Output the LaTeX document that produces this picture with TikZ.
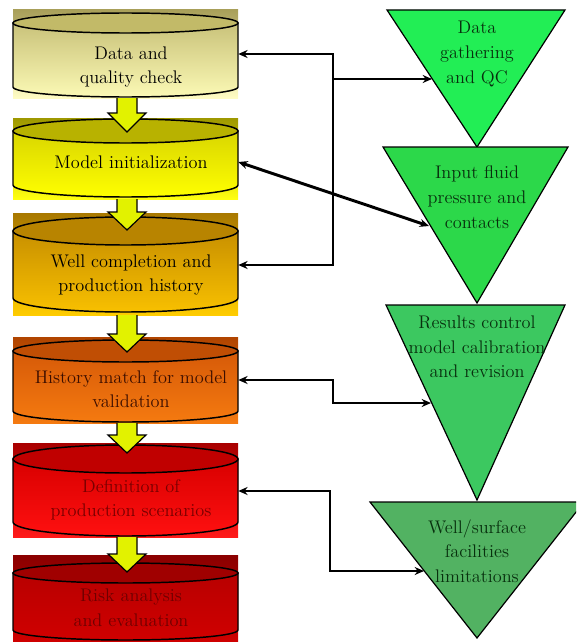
\documentclass[tikz,border=0pt]{standalone}
\usepackage{fontspec}
\usetikzlibrary{arrows.meta, calc}

\definecolor{bgtopA}{HTML}{A9A05A}\definecolor{bgbotA}{HTML}{FFFCC4}
\definecolor{bodytopA}{HTML}{C9C27A}\definecolor{bodybotA}{HTML}{FBF9B5}\definecolor{endA}{HTML}{C2BA68}
\definecolor{bgtopB}{HTML}{9E9800}\definecolor{bgbotB}{HTML}{FFFF10}
\definecolor{bodytopB}{HTML}{D9D600}\definecolor{bodybotB}{HTML}{FFFF00}\definecolor{endB}{HTML}{B8B200}
\definecolor{bgtopC}{HTML}{A87800}\definecolor{bgbotC}{HTML}{FFCC00}
\definecolor{bodytopC}{HTML}{C89000}\definecolor{bodybotC}{HTML}{F8C000}\definecolor{endC}{HTML}{B88400}
\definecolor{bgtopD}{HTML}{B04400}\definecolor{bgbotD}{HTML}{F57A10}
\definecolor{bodytopD}{HTML}{D65A08}\definecolor{bodybotD}{HTML}{F57A10}\definecolor{endD}{HTML}{C04E04}
\definecolor{bgtopE}{HTML}{A80000}\definecolor{bgbotE}{HTML}{FF1A1A}
\definecolor{bodytopE}{HTML}{D80000}\definecolor{bodybotE}{HTML}{FF1010}\definecolor{endE}{HTML}{C00000}
\definecolor{bgtopF}{HTML}{8A0000}\definecolor{bgbotF}{HTML}{D00000}
\definecolor{bodytopF}{HTML}{B80000}\definecolor{bodybotF}{HTML}{D00000}\definecolor{endF}{HTML}{A00000}
\definecolor{triA}{HTML}{22EE55}\definecolor{triB}{HTML}{2CD84A}
\definecolor{triC}{HTML}{3CC860}\definecolor{triD}{HTML}{52B262}
\definecolor{trink}{HTML}{08300E}
\definecolor{arrowyellow}{HTML}{E2F200}

\begin{document}
\begin{tikzpicture}[
    x=0.75pt, y=-0.75pt,
    txt/.style={align=center, font=\rmfamily\fontsize{13.7}{18.5}\selectfont, inner sep=0pt},
    cyltext/.style={txt, minimum width=160.5pt},
    tritext/.style={txt, text=trink},
    rim/.style={draw=black, line width=1.1pt},
    tri/.style={draw=black, line width=0.9pt},
    yarrow/.style={draw=black, line width=0.9pt, fill=arrowyellow},
    link/.style={line width=2.2pt, >={Stealth[length=7pt, width=6pt]}}
]
    \useasboundingbox (0,0) rectangle (576,642);
    \clip (0,0) rectangle (576,642);

    % cylinders
    \shade[top color=bgtopA, bottom color=bgbotA] (13,10) rectangle (238,98);
    \shadedraw[rim, top color=bodytopA, bottom color=bodybotA] (13,23) -- (13,87) arc[start angle=180, end angle=0, x radius=112.5, y radius=10] -- (238,23) -- cycle;
    \filldraw[rim, fill=endA] (125.5,23) ellipse[x radius=112.5, y radius=10];

    \shade[top color=bgtopB, bottom color=bgbotB] (13,118) rectangle (238,199);
    \shadedraw[rim, top color=bodytopB, bottom color=bodybotB] (13,131) -- (13,185) arc[start angle=180, end angle=0, x radius=112.5, y radius=12] -- (238,131) -- cycle;
    \filldraw[rim, fill=endB] (125.5,131) ellipse[x radius=112.5, y radius=12];

    \shade[top color=bgtopC, bottom color=bgbotC] (13,213) rectangle (238,315);
    \shadedraw[rim, top color=bodytopC, bottom color=bodybotC] (13,231) -- (13,298) arc[start angle=180, end angle=0, x radius=112.5, y radius=14] -- (238,231) -- cycle;
    \filldraw[rim, fill=endC] (125.5,231) ellipse[x radius=112.5, y radius=14];

    \shade[top color=bgtopD, bottom color=bgbotD] (13,337) rectangle (238,423);
    \shadedraw[rim, top color=bodytopD, bottom color=bodybotD] (13,351) -- (13,411) arc[start angle=180, end angle=0, x radius=112.5, y radius=11] -- (238,351) -- cycle;
    \filldraw[rim, fill=endD] (125.5,351) ellipse[x radius=112.5, y radius=11];

    \shade[top color=bgtopE, bottom color=bgbotE] (13,443) rectangle (238,537);
    \shadedraw[rim, top color=bodytopE, bottom color=bodybotE] (13,459) -- (13,522) arc[start angle=180, end angle=0, x radius=112.5, y radius=14] -- (238,459) -- cycle;
    \filldraw[rim, fill=endE] (125.5,459) ellipse[x radius=112.5, y radius=14];

    \shade[top color=bgtopF, bottom color=bgbotF] (13,555) rectangle (238,642);
    \shadedraw[rim, top color=bodytopF, bottom color=bodybotF] (13,573) -- (13,630) arc[start angle=180, end angle=0, x radius=112.5, y radius=10] -- (238,573) -- cycle;
    \filldraw[rim, fill=endF] (125.5,573) ellipse[x radius=112.5, y radius=10];

    % triangles
    \filldraw[tri, fill=triA] (387,10) -- (565,10) -- (477,147) -- cycle;
    \filldraw[tri, fill=triB] (383,147) -- (568,147) -- (477,303) -- cycle;
    \filldraw[tri, fill=triC] (386,305) -- (565,305) -- (477,500) -- cycle;
    \filldraw[tri, fill=triD] (370,502) -- (584,502) -- (477,638) -- cycle;

    % block arrows
    \filldraw[yarrow] (117,98) -- (117,113) -- (108,113) -- (127,132) -- (146,113) -- (137,113) -- (137,98);
    \filldraw[yarrow] (117,199) -- (117,212) -- (108,212) -- (127,230) -- (146,212) -- (137,212) -- (137,199);
    \filldraw[yarrow] (117,315) -- (117,334) -- (108,334) -- (127,352) -- (146,334) -- (137,334) -- (137,315);
    \filldraw[yarrow] (117,423) -- (117,435) -- (108,435) -- (127,453) -- (146,435) -- (137,435) -- (137,423);
    \filldraw[yarrow] (117,537) -- (117,554) -- (108,554) -- (127,572) -- (146,554) -- (137,554) -- (137,537);

    % texts
    \node[cyltext, text=black] (c1) at (131,67) {Data and\\quality check};
    \node[cyltext, text=black] (c2) at (131,162) {Model initialization};
    \node[cyltext, text=black] (c3) at (131,275) {Well completion and\\production history};
    \node[cyltext, text={rgb,255:red,60;green,14;blue,0}] (c4) at (131,389) {History match for model\\validation};
    \node[cyltext, text={rgb,255:red,120;green,0;blue,0}] (c5) at (131,500) {Definition of\\production scenarios};
    \node[cyltext, text={rgb,255:red,110;green,0;blue,0}] (c6) at (131,608) {Risk analysis\\and evaluation};

    \node[tritext] (t1) at (477,54) {Data\\gathering\\and QC};
    \node[tritext] (t2) at (477,197) {Input fluid\\pressure and\\contacts};
    \node[tritext] (t3) at (477,347) {Results control\\model calibration\\and revision};
    \node[tritext] (t4) at (477,551) {Well/surface\\facilities\\limitations};

    % connectors
    \coordinate (j1) at (333,54);
    \coordinate (j2) at (333,265);
    \coordinate (j3) at (333,79);
    \coordinate (t1in) at (432,79);
    \coordinate (t2in) at (429,226);
    \coordinate (k4) at (333,380);
    \coordinate (t3in) at (431,403);
    \coordinate (k5) at (330,491);
    \coordinate (t4in) at (424,571);

    \draw[link, <->] (c1.east |- j1) -- (j1) -- (j2) -- (c3.east |- j2);
    \draw[link, ->] (j3) -- (t1in);
    \draw[link, <->] (c2.east) -- (t2in);
    \draw[link, <->] (c4.east |- k4) -- (k4) |- (t3in);
    \draw[link, <->] (c5.east |- k5) -- (k5) |- (t4in);
\end{tikzpicture}
\end{document}
